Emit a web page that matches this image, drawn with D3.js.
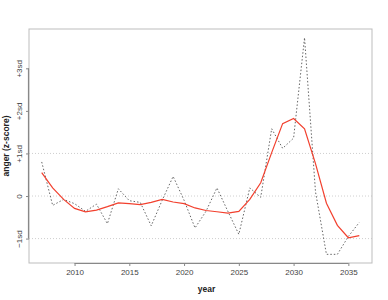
<!DOCTYPE html>
<html>
<head>
<meta charset="utf-8">
<script src="https://cdn.jsdelivr.net/npm/d3@7"></script>
<style>
  html, body { margin: 0; padding: 0; background: #fff; }
  svg { display: block; font-family: "Liberation Sans", Arial, Helvetica, sans-serif; }
</style>
</head>
<body>
<svg id="chart" width="388" height="300"></svg>
<script>
const years = d3.range(2007, 2037);
const rawValues = [0.80, -0.22, -0.08, -0.18, -0.36, -0.19, -0.65, 0.17, -0.11, -0.15,
                   -0.70, -0.10, 0.46, -0.10, -0.75, -0.36, 0.19, -0.36, -0.90, 0.19,
                   -0.03, 1.58, 1.12, 1.36, 3.72, 0.10, -1.37, -1.37, -0.95, -0.62];
const smoothValues = [0.55, 0.19, -0.08, -0.29, -0.37, -0.33, -0.25, -0.16, -0.18, -0.20,
                      -0.15, -0.08, -0.14, -0.18, -0.28, -0.34, -0.37, -0.40, -0.36, -0.08,
                      0.31, 1.02, 1.70, 1.82, 1.58, 0.76, -0.17, -0.69, -0.98, -0.93];
const xTicks = [2010, 2015, 2020, 2025, 2030, 2035];
const yTicks = [-1, 0, 1, 2, 3];
const yTickLabels = ["\u22121sd", "0", "+1sd", "+2sd", "+3sd"];
const gridLevels = [-1, 0, 1];

const svg = d3.select("#chart");
const box = { left: 29, right: 372, top: 29, bottom: 263 };

const xPad = (2036 - 2007) * 0.04;
const x = d3.scaleLinear().domain([2007 - xPad, 2036 + xPad]).range([box.left, box.right]);
const yMin = d3.min(rawValues.concat(smoothValues)), yMax = d3.max(rawValues.concat(smoothValues));
const yPad = (yMax - yMin) * 0.04;
const y = d3.scaleLinear().domain([yMin - yPad, yMax + yPad]).range([box.bottom, box.top]);

// grid lines
svg.append("g").selectAll("line").data(gridLevels).join("line")
  .attr("x1", box.left).attr("x2", box.right)
  .attr("y1", d => y(d)).attr("y2", d => y(d))
  .attr("stroke", "#cfcfcf").attr("stroke-width", 1).attr("stroke-dasharray", "1,2");

// box
svg.append("rect")
  .attr("x", box.left).attr("y", box.top)
  .attr("width", box.right - box.left).attr("height", box.bottom - box.top)
  .attr("fill", "none").attr("stroke", "#bdbdbd").attr("stroke-width", 1);

// raw dotted line
const line = (vals) => d3.line().x((d, i) => x(years[i])).y(d => y(d))(vals);
svg.append("path").attr("d", line(rawValues))
  .attr("fill", "none").attr("stroke", "#555").attr("stroke-width", 0.9)
  .attr("stroke-dasharray", "1.5,2");

// smooth red line
svg.append("path").attr("d", line(smoothValues))
  .attr("fill", "none").attr("stroke", "#f2402e").attr("stroke-width", 1.2);

// x axis
const xAxis = d3.axisBottom(x).tickValues(xTicks).tickFormat(d3.format("d")).tickSize(3).tickPadding(3);
const gx = svg.append("g").attr("transform", `translate(0,${box.bottom})`).call(xAxis);
gx.select(".domain").remove();
gx.append("line").attr("x1", x(xTicks[0])).attr("x2", x(xTicks[xTicks.length - 1]))
  .attr("y1", 0.5).attr("y2", 0.5).attr("stroke", "#888").attr("stroke-width", 1.2);
gx.selectAll(".tick line").attr("stroke", "#888");
gx.selectAll(".tick text").attr("fill", "#444").attr("font-size", 8).attr("font-family", "Liberation Sans, Arial, sans-serif");

// y axis
const yAxis = d3.axisLeft(y).tickValues(yTicks).tickFormat((d, i) => yTickLabels[i]).tickSize(3).tickPadding(3);
const gy = svg.append("g").attr("transform", `translate(${box.left},0)`).call(yAxis);
gy.select(".domain").remove();
gy.append("line").attr("y1", y(yTicks[0])).attr("y2", y(yTicks[yTicks.length - 1]))
  .attr("x1", -0.5).attr("x2", -0.5).attr("stroke", "#888").attr("stroke-width", 1.2);
gy.selectAll(".tick line").attr("stroke", "#888");
gy.selectAll(".tick text")
  .attr("fill", "#444").attr("font-size", 8).attr("font-family", "Liberation Sans, Arial, sans-serif")
  .attr("x", null).attr("dy", null)
  .attr("text-anchor", "middle")
  .attr("transform", "translate(-7,0) rotate(-90)");

// axis titles
svg.append("text").attr("x", (box.left + box.right) / 2 + 6).attr("y", 292)
  .attr("text-anchor", "middle").attr("font-size", 8.5).attr("font-weight", "bold").attr("fill", "#222")
  .text("year");
svg.append("text").attr("transform", `translate(9,${(box.top + box.bottom) / 2}) rotate(-90)`)
  .attr("text-anchor", "middle").attr("font-size", 8.5).attr("font-weight", "bold").attr("fill", "#222")
  .text("anger (z-score)");
</script>
</body>
</html>
